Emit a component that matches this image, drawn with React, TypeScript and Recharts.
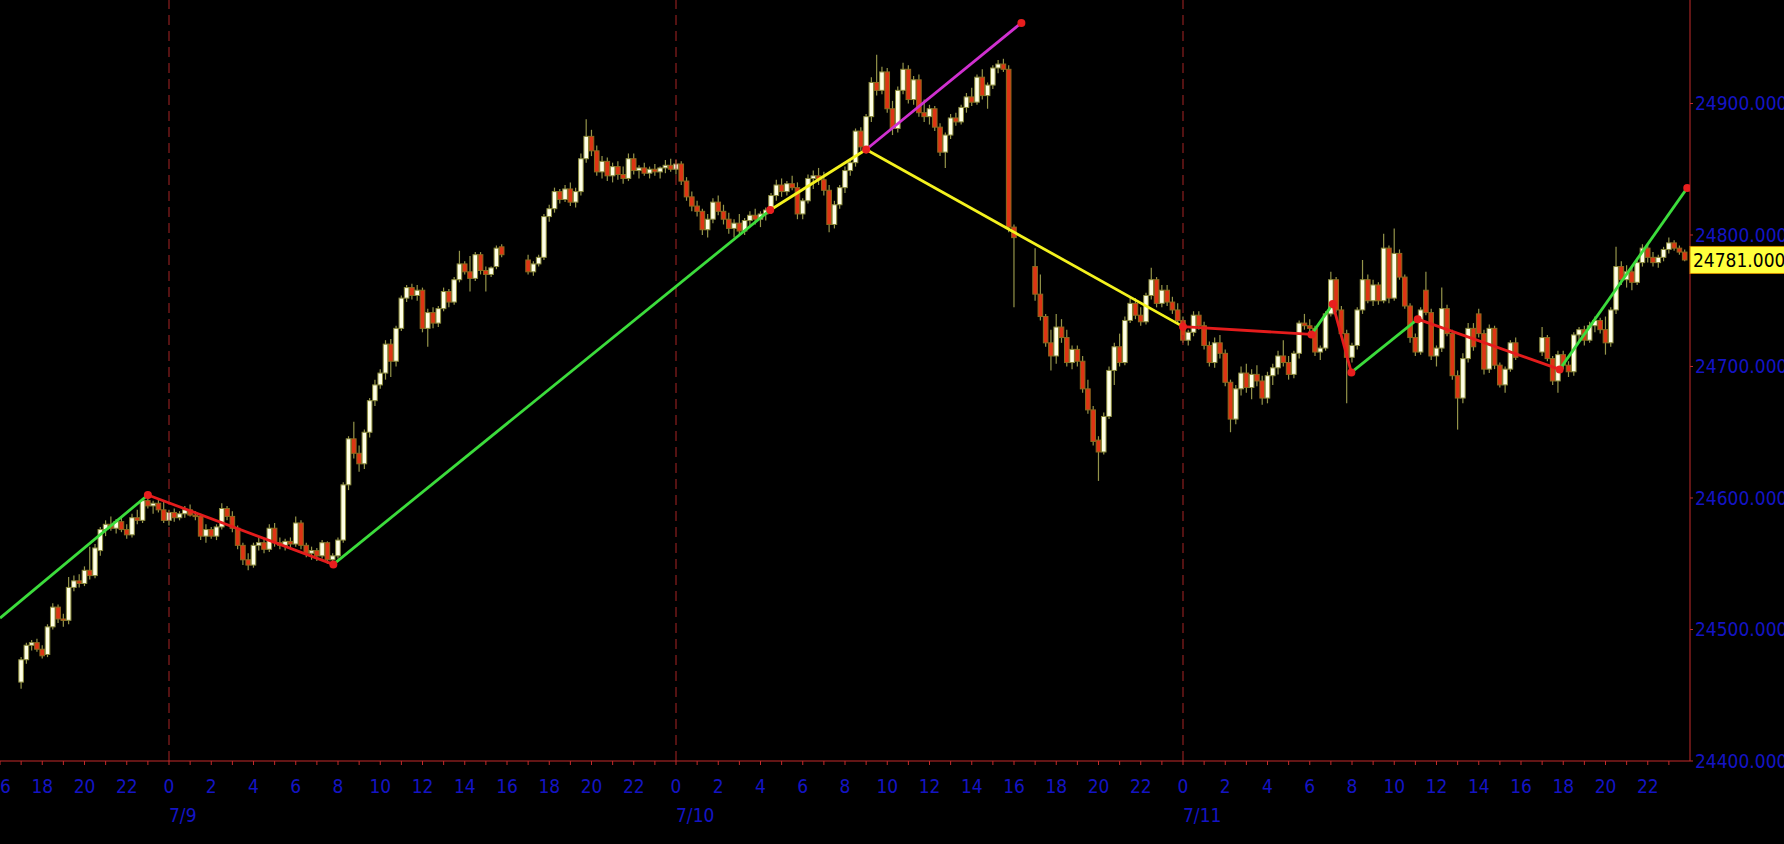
import React from 'react';
import { ComposedChart, Bar, Line, Scatter, XAxis, YAxis, ReferenceLine, ReferenceDot } from 'recharts';

// hours counted from 7/9 00:00, 15 minute bars, one list per trading session
const SESSION_START = [-7, 17, 41, 65];
const DAY_LABELS = ['7/9', '7/10', '7/11'];
const PRICE_TICKS = [24400, 24500, 24600, 24700, 24800, 24900];
const LAST_PRICE = 24781;

// [open, high, low, close]
const SESSION_1 = [
    [24460, 24479, 24455, 24477], [24477, 24490, 24474, 24488], [24488, 24492, 24484, 24490], [24490, 24493, 24483, 24485],
    [24485, 24488, 24478, 24480], [24481, 24504, 24479, 24502], [24502, 24520, 24500, 24517], [24517, 24519, 24505, 24508],
    [24508, 24512, 24502, 24507], [24507, 24540, 24504, 24532], [24532, 24541, 24529, 24537], [24537, 24542, 24532, 24535],
    [24535, 24548, 24533, 24545], [24545, 24563, 24538, 24541], [24541, 24565, 24539, 24562], [24560, 24578, 24556, 24576],
    [24576, 24583, 24571, 24580], [24580, 24586, 24575, 24577], [24577, 24584, 24573, 24582], [24582, 24585, 24574, 24576],
    [24576, 24580, 24569, 24572], [24572, 24588, 24570, 24585], [24585, 24591, 24580, 24583], [24583, 24600, 24581, 24598],
    [24598, 24605, 24592, 24594], [24594, 24598, 24588, 24596], [24596, 24600, 24589, 24591], [24591, 24597, 24581, 24583],
    [24583, 24591, 24579, 24589], [24589, 24592, 24582, 24585], [24585, 24590, 24583, 24588], [24588, 24594, 24585, 24591],
    [24591, 24595, 24586, 24587], [24587, 24590, 24583, 24586], [24586, 24588, 24568, 24571], [24571, 24580, 24566, 24576],
    [24576, 24578, 24569, 24571], [24571, 24580, 24568, 24578], [24578, 24596, 24576, 24592], [24592, 24594, 24583, 24586],
    [24586, 24590, 24574, 24577], [24577, 24579, 24561, 24564], [24564, 24566, 24549, 24553], [24553, 24558, 24545, 24549],
    [24549, 24566, 24547, 24564], [24564, 24570, 24560, 24566], [24566, 24569, 24558, 24561], [24561, 24580, 24559, 24577],
    [24577, 24581, 24563, 24566], [24566, 24570, 24561, 24564], [24564, 24569, 24560, 24567], [24567, 24570, 24561, 24565],
    [24565, 24586, 24563, 24581], [24581, 24583, 24561, 24564], [24564, 24566, 24555, 24558], [24558, 24563, 24553, 24560],
    [24560, 24562, 24552, 24556], [24556, 24568, 24554, 24566], [24566, 24567, 24550, 24553], [24553, 24558, 24548, 24556],
    [24556, 24570, 24554, 24568], [24568, 24612, 24566, 24610], [24610, 24647, 24606, 24645], [24645, 24658, 24630, 24634],
    [24634, 24640, 24620, 24626], [24626, 24652, 24622, 24650], [24650, 24676, 24646, 24674], [24674, 24690, 24670, 24686],
    [24686, 24698, 24683, 24695], [24695, 24720, 24690, 24717], [24717, 24721, 24692, 24704], [24704, 24731, 24700, 24729],
    [24729, 24754, 24727, 24752], [24752, 24762, 24749, 24760], [24760, 24763, 24751, 24754], [24754, 24762, 24750, 24758],
    [24758, 24760, 24726, 24729], [24729, 24744, 24715, 24741], [24741, 24745, 24729, 24733], [24733, 24746, 24730, 24744],
    [24744, 24760, 24742, 24757], [24757, 24759, 24745, 24749], [24749, 24768, 24747, 24766], [24766, 24788, 24764, 24778],
    [24778, 24780, 24770, 24772], [24772, 24784, 24757, 24767], [24767, 24787, 24765, 24785], [24785, 24787, 24770, 24773],
    [24773, 24776, 24757, 24770], [24770, 24776, 24768, 24775], [24776, 24792, 24774, 24790], [24791, 24793, 24783, 24785],
];

const SESSION_2 = [
    [24781, 24785, 24770, 24772], [24772, 24780, 24769, 24778], [24778, 24785, 24776, 24783], [24783, 24816, 24781, 24814],
    [24814, 24823, 24810, 24820], [24820, 24836, 24817, 24833], [24833, 24835, 24824, 24827], [24827, 24838, 24825, 24835],
    [24835, 24840, 24822, 24825], [24825, 24836, 24821, 24833], [24833, 24862, 24830, 24858], [24858, 24888, 24855, 24875],
    [24875, 24880, 24860, 24864], [24864, 24868, 24845, 24848], [24848, 24860, 24843, 24856], [24856, 24859, 24841, 24845],
    [24845, 24855, 24840, 24852], [24852, 24856, 24842, 24846], [24846, 24852, 24839, 24843], [24843, 24862, 24841, 24858],
    [24858, 24862, 24846, 24849], [24849, 24853, 24843, 24851], [24851, 24855, 24845, 24847], [24847, 24852, 24843, 24850],
    [24850, 24854, 24845, 24848], [24848, 24852, 24843, 24851], [24851, 24857, 24847, 24853], [24853, 24858, 24848, 24850],
    [24850, 24857, 24846, 24854], [24854, 24856, 24838, 24841], [24841, 24844, 24826, 24829], [24829, 24833, 24818, 24822],
    [24822, 24826, 24814, 24818], [24818, 24820, 24800, 24804], [24804, 24816, 24798, 24812], [24812, 24828, 24809, 24825],
    [24825, 24830, 24815, 24818], [24818, 24823, 24808, 24812], [24812, 24817, 24801, 24805], [24805, 24812, 24798, 24809],
    [24809, 24816, 24800, 24803], [24803, 24813, 24800, 24811], [24811, 24818, 24806, 24815], [24815, 24820, 24808, 24812],
    [24812, 24818, 24806, 24816], [24816, 24821, 24811, 24819], [24819, 24832, 24816, 24830], [24830, 24842, 24826, 24838],
    [24838, 24843, 24829, 24833], [24833, 24841, 24830, 24839], [24839, 24845, 24834, 24836], [24836, 24840, 24812, 24816],
    [24816, 24828, 24812, 24826], [24826, 24846, 24824, 24843], [24843, 24849, 24835, 24845], [24845, 24851, 24838, 24842],
    [24842, 24848, 24830, 24834], [24834, 24838, 24802, 24808], [24808, 24826, 24805, 24823], [24823, 24838, 24820, 24836],
    [24836, 24852, 24832, 24849], [24849, 24858, 24845, 24855], [24855, 24881, 24852, 24879], [24879, 24882, 24864, 24867],
    [24867, 24892, 24862, 24890], [24890, 24920, 24886, 24916], [24916, 24937, 24906, 24910], [24910, 24928, 24907, 24924],
    [24924, 24927, 24893, 24896], [24896, 24902, 24876, 24881], [24881, 24913, 24878, 24910], [24910, 24931, 24907, 24926],
    [24926, 24929, 24900, 24903], [24903, 24921, 24899, 24918], [24918, 24922, 24890, 24893], [24893, 24903, 24886, 24890],
    [24890, 24899, 24884, 24896], [24896, 24898, 24879, 24882], [24882, 24885, 24860, 24863], [24863, 24878, 24851, 24876],
    [24876, 24892, 24873, 24889], [24889, 24893, 24883, 24886], [24886, 24899, 24884, 24897], [24897, 24908, 24893, 24905],
    [24905, 24912, 24898, 24901], [24901, 24922, 24899, 24920], [24920, 24926, 24903, 24906], [24906, 24916, 24896, 24914],
    [24914, 24929, 24911, 24927], [24927, 24933, 24923, 24930], [24930, 24934, 24924, 24926], [24926, 24929, 24802, 24806],
    [24806, 24808, 24745, 24798],
];

const SESSION_3 = [
    [24776, 24790, 24750, 24755], [24755, 24770, 24735, 24738], [24738, 24740, 24715, 24718], [24718, 24728, 24697, 24708],
    [24708, 24740, 24702, 24730], [24730, 24736, 24718, 24722], [24722, 24728, 24700, 24703], [24703, 24716, 24698, 24713],
    [24713, 24716, 24700, 24704], [24704, 24708, 24680, 24683], [24683, 24690, 24664, 24667], [24667, 24670, 24640, 24643],
    [24644, 24647, 24613, 24635], [24635, 24665, 24633, 24662], [24662, 24700, 24660, 24697], [24697, 24718, 24686, 24715],
    [24715, 24725, 24700, 24703], [24703, 24738, 24701, 24735], [24735, 24752, 24733, 24748], [24748, 24752, 24736, 24739],
    [24739, 24745, 24731, 24734], [24734, 24756, 24732, 24754], [24754, 24775, 24751, 24766], [24766, 24768, 24745, 24748],
    [24748, 24762, 24745, 24758], [24758, 24762, 24746, 24749], [24749, 24753, 24740, 24743], [24743, 24748, 24732, 24735],
    [24735, 24738, 24718, 24720], [24720, 24728, 24716, 24726], [24726, 24742, 24723, 24739], [24739, 24742, 24728, 24731],
    [24731, 24734, 24713, 24716], [24716, 24719, 24700, 24703], [24703, 24722, 24699, 24718], [24718, 24724, 24706, 24710],
    [24710, 24713, 24685, 24688], [24688, 24690, 24650, 24660], [24660, 24686, 24656, 24683], [24683, 24700, 24678, 24695],
    [24695, 24702, 24680, 24684], [24684, 24698, 24675, 24694], [24694, 24701, 24685, 24689], [24689, 24693, 24671, 24676],
    [24676, 24696, 24672, 24693], [24693, 24702, 24686, 24699], [24699, 24712, 24694, 24708], [24708, 24720, 24700, 24703],
    [24703, 24708, 24690, 24694], [24694, 24712, 24691, 24710], [24710, 24735, 24706, 24733], [24733, 24740, 24728, 24731],
    [24731, 24736, 24726, 24729], [24729, 24731, 24708, 24711], [24711, 24716, 24705, 24714], [24714, 24742, 24712, 24740],
    [24740, 24772, 24738, 24766], [24766, 24768, 24741, 24743], [24743, 24746, 24723, 24725], [24725, 24728, 24672, 24707],
    [24707, 24718, 24703, 24716], [24716, 24745, 24713, 24743], [24743, 24781, 24740, 24766], [24766, 24770, 24748, 24750],
    [24750, 24766, 24746, 24762], [24762, 24764, 24747, 24750], [24750, 24801, 24748, 24790], [24790, 24792, 24748, 24752],
    [24752, 24805, 24750, 24786], [24786, 24789, 24766, 24768], [24768, 24770, 24744, 24746], [24746, 24748, 24718, 24722],
    [24722, 24725, 24708, 24711], [24711, 24745, 24709, 24743], [24758, 24772, 24739, 24741], [24741, 24744, 24705, 24708],
    [24708, 24716, 24700, 24714], [24714, 24760, 24711, 24744], [24744, 24747, 24723, 24725], [24725, 24728, 24690, 24693],
    [24693, 24697, 24652, 24676], [24676, 24710, 24672, 24706], [24706, 24733, 24703, 24729], [24729, 24733, 24712, 24715],
    [24740, 24744, 24722, 24725], [24725, 24728, 24694, 24698], [24698, 24732, 24695, 24729], [24729, 24731, 24698, 24701],
    [24701, 24703, 24684, 24686], [24686, 24700, 24680, 24698], [24698, 24720, 24696, 24718], [24718, 24722, 24705, 24707],
];

const SESSION_4 = [
    [24711, 24730, 24708, 24722], [24722, 24724, 24704, 24706], [24706, 24708, 24686, 24689], [24689, 24712, 24680, 24709],
    [24709, 24712, 24698, 24701], [24701, 24704, 24692, 24696], [24696, 24726, 24693, 24724], [24724, 24730, 24718, 24728],
    [24728, 24731, 24716, 24720], [24720, 24734, 24718, 24731], [24731, 24738, 24726, 24735], [24735, 24737, 24725, 24728],
    [24728, 24738, 24709, 24718], [24718, 24745, 24715, 24743], [24743, 24791, 24740, 24776], [24776, 24780, 24762, 24766],
    [24766, 24777, 24760, 24772], [24772, 24776, 24758, 24764], [24764, 24782, 24762, 24779], [24779, 24793, 24776, 24790],
    [24790, 24794, 24779, 24783], [24783, 24787, 24776, 24779], [24779, 24785, 24775, 24783], [24783, 24791, 24780, 24789],
    [24789, 24798, 24786, 24794], [24794, 24796, 24788, 24790], [24790, 24792, 24785, 24787], [24787, 24789, 24780, 24781],
];

// zigzag pivots (hour, price) and the legs joining them
const PIVOT_H = [-8, -1, 7.78, 28.46, 33, 40.35, 48, 54.08, 55.09, 55.97, 59.11, 65.83, 71.87];
const PIVOT_P = [24508.7, 24602.3, 24549.5, 24819, 24865, 24961.3, 24730.3, 24724.4, 24747.5, 24695.5, 24736, 24697.8, 24835.8];
const LEG_FROM = [0, 1, 2, 3, 4, 4, 6, 7, 8, 9, 10, 11];
const LEG_TO = [1, 2, 3, 4, 5, 6, 7, 8, 9, 10, 11, 12];
const LEG_KIND = ['up', 'down', 'up', 'weak', 'proj', 'weak', 'down', 'up', 'down', 'up', 'down', 'up'];

const LEG_COLORS: Record<string, string> = {
    up: '#3cdc3c',
    down: '#e41c1c',
    weak: '#f4f21e',
    proj: '#d030d0',
};

const FONT = "'DejaVu Sans Condensed', 'DejaVu Sans', sans-serif";
const BLUE = '#1414c4';
const AXIS_RED = '#c42a2a';
const DAY_RED = '#a82424';

const candles = [SESSION_1, SESSION_2, SESSION_3, SESSION_4].flatMap((rows, s) =>
    rows.map(([o, hi, lo, c], i) => ({
        h: SESSION_START[s] + i * 0.25,
        range: [lo, hi],
        o, hi, lo, c,
    }))
);

const pivots = PIVOT_H.map((h, i) => ({ h, p: PIVOT_P[i] })).slice(1);

const hourTicks = Array.from({ length: 80 }, (_, i) => i - 8);

function Candle(props: any) {
    const { x, y, width, height, payload } = props;
    if (x == null || !payload) return null;
    const top = Math.min(y, y + height);
    const span = Math.abs(height);
    const { o, c, hi, lo } = payload;
    const k = span / (hi - lo);
    const cx = x + width / 2;
    const yOf = (v: number) => top + (hi - v) * k;
    const up = c >= o;
    const bodyTop = yOf(Math.max(o, c));
    const bodyH = Math.max(1.5, Math.abs(yOf(o) - yOf(c)));
    return (
        <g>
            <line x1={cx} x2={cx} y1={top} y2={top + span} stroke="#94944a" strokeWidth={1.2} />
            <rect
                x={cx - 2.3}
                y={bodyTop}
                width={4.6}
                height={bodyH}
                fill={up ? '#ffffe6' : '#de3414'}
                stroke={up ? '#8a8a3c' : '#8e6a1e'}
                strokeWidth={1}
            />
        </g>
    );
}

function HourTick(props: any) {
    const { x, y, payload } = props;
    const v = payload.value as number;
    const hour = ((v % 24) + 24) % 24;
    const day = v / 24;
    return (
        <g>
            <line x1={x} x2={x} y1={y} y2={y + 4} stroke={AXIS_RED} />
            {hour % 2 === 0 && (
                <text x={x} y={y + 32} textAnchor="middle" fill={BLUE} fontSize={19} fontFamily={FONT}>
                    {hour}
                </text>
            )}
            {hour === 0 && DAY_LABELS[day] && (
                <text x={x} y={y + 61} textAnchor="start" fill={BLUE} fontSize={19} fontFamily={FONT}>
                    {DAY_LABELS[day]}
                </text>
            )}
        </g>
    );
}

function PriceTag(props: any) {
    const { cx, cy } = props;
    if (cx == null) return null;
    return (
        <g>
            <rect x={cx} y={cy - 13.5} width={100} height={27} fill="#ffff3c" stroke="#d08a00" />
            <text x={cx + 3} y={cy} dy="0.36em" fill="#000" fontSize={19} fontFamily={FONT}>
                {LAST_PRICE.toFixed(3)}
            </text>
        </g>
    );
}

export default function App() {
    return (
        <div style={{ width: 1784, height: 844, background: '#000' }}>
            <style>{'html,body{margin:0;padding:0;background:#000;}'}</style>
            <ComposedChart
                width={1784}
                height={844}
                data={candles}
                margin={{ top: 0, right: 0, bottom: 0, left: 0 }}
                style={{ background: '#000' }}
            >
                <XAxis
                    dataKey="h"
                    type="number"
                    domain={[-8, 72]}
                    allowDataOverflow
                    ticks={hourTicks}
                    interval={0}
                    height={83}
                    tickSize={0}
                    tickMargin={0}
                    tickLine={false}
                    axisLine={{ stroke: AXIS_RED }}
                    tick={(p: any) => <HourTick {...p} />}
                />
                <YAxis
                    orientation="right"
                    type="number"
                    domain={[24400, 24978.7]}
                    allowDataOverflow
                    ticks={PRICE_TICKS}
                    interval={0}
                    width={94}
                    tickSize={3}
                    tickMargin={2}
                    axisLine={{ stroke: AXIS_RED }}
                    tickLine={{ stroke: AXIS_RED }}
                    tick={{ fill: BLUE, fontSize: 19, fontFamily: FONT }}
                    tickFormatter={(v: number) => v.toFixed(3)}
                />
                {[0, 24, 48].map((d) => (
                    <ReferenceLine key={d} x={d} stroke={DAY_RED} strokeDasharray="10 6" />
                ))}
                <Bar dataKey="range" barSize={4} shape={(p: any) => <Candle {...p} />} isAnimationActive={false} />
                {LEG_FROM.map((a, i) => (
                    <Line
                        key={`leg-${i}`}
                        data={[
                            { h: PIVOT_H[a], p: PIVOT_P[a] },
                            { h: PIVOT_H[LEG_TO[i]], p: PIVOT_P[LEG_TO[i]] },
                        ]}
                        dataKey="p"
                        type="linear"
                        stroke={LEG_COLORS[LEG_KIND[i]]}
                        strokeWidth={2.8}
                        dot={false}
                        activeDot={false}
                        isAnimationActive={false}
                    />
                ))}
                <Scatter
                    data={pivots}
                    dataKey="p"
                    isAnimationActive={false}
                    shape={(p: any) => <circle cx={p.cx} cy={p.cy} r={4} fill="#e81e1e" />}
                />
                <ReferenceDot x={72} y={LAST_PRICE} ifOverflow="visible" shape={(p: any) => <PriceTag {...p} />} />
            </ComposedChart>
        </div>
    );
}
